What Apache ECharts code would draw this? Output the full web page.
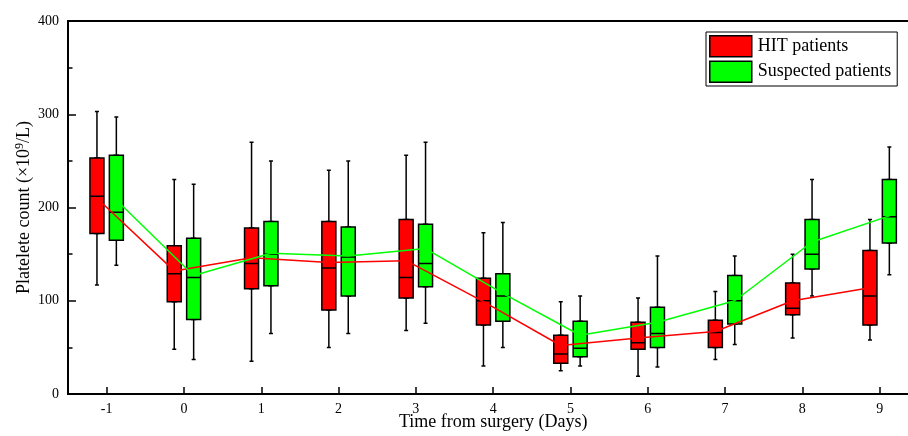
<!DOCTYPE html>
<html>
<head>
<meta charset="utf-8">
<script src="https://cdn.jsdelivr.net/npm/echarts@6/dist/echarts.min.js"></script>
<style>
  html, body { margin: 0; padding: 0; background: #fff; }
  #main { width: 908px; height: 436px; }
</style>
</head>
<body>
<div id="main"></div>
<script>
// 横轴：术后天数
var days = ['-1', '0', '1', '2', '3', '4', '5', '6', '7', '8', '9'];
var yTicks = [0, 100, 200, 300, 400];

// HIT patients
var hitMin    = [117, 48, 35, 50, 68, 30, 25, 19, 37, 60, 58];
var hitQ1     = [172, 99, 113, 90, 103, 74, 33, 48, 50, 85, 74];
var hitMedian = [212, 129, 140, 135, 125, 100, 43, 55, 66, 92, 105];
var hitQ3     = [253, 159, 178, 185, 187, 124, 63, 77, 79, 119, 154];
var hitMax    = [303, 230, 270, 240, 256, 173, 99, 103, 110, 150, 187];
var hitMean   = [210, 132, 146, 141, 143, 99, 52, 60, 67, 100, 114];

// Suspected patients
var susMin    = [138, 37, 65, 65, 76, 50, 30, 29, 53, 105, 128];
var susQ1     = [165, 80, 116, 105, 115, 78, 40, 50, 75, 134, 162];
var susMedian = [195, 125, 150, 147, 140, 105, 49, 65, 100, 150, 190];
var susQ3     = [256, 167, 185, 179, 182, 129, 78, 93, 127, 187, 230];
var susMax    = [297, 225, 250, 250, 270, 184, 105, 148, 148, 230, 265];
var susMean   = [208, 127, 151, 148, 156, 108, 63, 77, 100, 163, 191];

var font = 'Liberation Serif';
var RED = '#ff0000';
var GREEN = '#00ff00';

// 主坐标区
var gLeft = 68, gRight = -10.3, gTop = 21, gBottom = 42;
var shift = 9.7;  // 两组箱子相对刻度的偏移

function whiskerData(mn, q1, md, q3, mx) {
    return days.map(function(d, i) { return [mn[i], q1[i], md[i], q3[i], mx[i]]; });
}
function boxData(q1, md, q3) {
    return days.map(function(d, i) { return [q1[i], q1[i], md[i], q3[i], q3[i]]; });
}

function hiddenX(gridIndex) {
    return { type: 'category', data: days, gridIndex: gridIndex, show: false, boundaryGap: true };
}
function hiddenY(gridIndex) {
    return { type: 'value', gridIndex: gridIndex, min: 0, max: 400, show: false };
}

function whiskerSeries(name, xi, yi, data) {
    return {
        name: name, type: 'boxplot', xAxisIndex: xi, yAxisIndex: yi,
        boxWidth: [4, 4], silent: true,
        itemStyle: { color: '#000', borderColor: '#000', borderWidth: 1.5 },
        data: data
    };
}
function boxSeries(name, xi, yi, color, data) {
    return {
        name: name, type: 'boxplot', xAxisIndex: xi, yAxisIndex: yi,
        boxWidth: [14, 14], silent: true,
        itemStyle: { color: color, borderColor: '#000', borderWidth: 1.5 },
        data: data
    };
}
function meanSeries(name, xi, yi, color, data) {
    return {
        name: name, type: 'line', xAxisIndex: xi, yAxisIndex: yi,
        symbol: 'none', silent: true,
        lineStyle: { color: color, width: 1.5 },
        itemStyle: { color: color },
        data: data, z: 5
    };
}

var option = {
    animation: false,
    backgroundColor: '#fff',
    textStyle: { fontFamily: font, color: '#000' },
    legend: {
        orient: 'vertical',
        left: 706, top: 32,
        padding: [3, 6, 3, 3],
        itemWidth: 42, itemHeight: 21, itemGap: 3,
        borderColor: '#000', borderWidth: 1,
        selectedMode: false,
        textStyle: { fontFamily: font, fontSize: 18, color: '#000', padding: [0, 0, 0, 1] },
        data: [
            { name: 'HIT patients', icon: 'rect', itemStyle: { color: RED, borderColor: '#000', borderWidth: 1.5 } },
            { name: 'Suspected patients', icon: 'rect', itemStyle: { color: GREEN, borderColor: '#000', borderWidth: 1.5 } }
        ]
    },
    grid: [
        { left: gLeft, right: gRight, top: gTop, bottom: gBottom, outerBoundsMode: 'none',
          show: true, borderColor: '#000', borderWidth: 2 },
        { left: gLeft - shift, right: gRight + shift, top: gTop, bottom: gBottom, outerBoundsMode: 'none' },
        { left: gLeft + shift, right: gRight - shift, top: gTop, bottom: gBottom, outerBoundsMode: 'none' }
    ],
    xAxis: [
        {
            type: 'category', data: days, gridIndex: 0, boundaryGap: true,
            name: 'Time from surgery (Days)', nameLocation: 'middle', nameGap: 19, nameMoveOverlap: false,
            nameTextStyle: { fontFamily: font, fontSize: 18, color: '#000' },
            axisLine: { lineStyle: { color: '#000', width: 2 } },
            axisTick: { show: true, inside: true, alignWithLabel: true, length: 7, lineStyle: { color: '#000', width: 1.5 } },
            axisLabel: { fontFamily: font, fontSize: 14, color: '#000', margin: 8 },
            splitLine: { show: false }
        },
        hiddenX(1), hiddenX(1),
        hiddenX(2), hiddenX(2)
    ],
    yAxis: [
        {
            type: 'value', gridIndex: 0, min: yTicks[0], max: yTicks[yTicks.length - 1], interval: 100,
            name: '{a|Platelete count (×10}{s|9}{a|/L)}', nameLocation: 'middle', nameGap: 34, nameMoveOverlap: false,
            nameTextStyle: {
                fontFamily: font, fontSize: 18, color: '#000',
                rich: {
                    a: { fontFamily: font, fontSize: 18, color: '#000' },
                    s: { fontFamily: font, fontSize: 12, color: '#000', verticalAlign: 'top', padding: [0, 0, 8, 0] }
                }
            },
            axisLine: { show: true, lineStyle: { color: '#000', width: 2 } },
            axisTick: { show: true, inside: true, length: 8, lineStyle: { color: '#000', width: 1.5 } },
            minorTick: { show: true, splitNumber: 2, length: 4.5, lineStyle: { color: '#000', width: 1.5 } },
            axisLabel: { fontFamily: font, fontSize: 14, color: '#000', margin: 9 },
            splitLine: { show: false }
        },
        hiddenY(1), hiddenY(2)
    ],
    series: [
        whiskerSeries('HIT patients', 1, 1, whiskerData(hitMin, hitQ1, hitMedian, hitQ3, hitMax)),
        boxSeries('HIT patients', 2, 1, RED, boxData(hitQ1, hitMedian, hitQ3)),
        whiskerSeries('Suspected patients', 3, 2, whiskerData(susMin, susQ1, susMedian, susQ3, susMax)),
        boxSeries('Suspected patients', 4, 2, GREEN, boxData(susQ1, susMedian, susQ3)),
        meanSeries('HIT patients', 2, 1, RED, hitMean),
        meanSeries('Suspected patients', 4, 2, GREEN, susMean)
    ]
};

var myChart = echarts.init(document.getElementById('main'));
myChart.setOption(option);
</script>
</body>
</html>
